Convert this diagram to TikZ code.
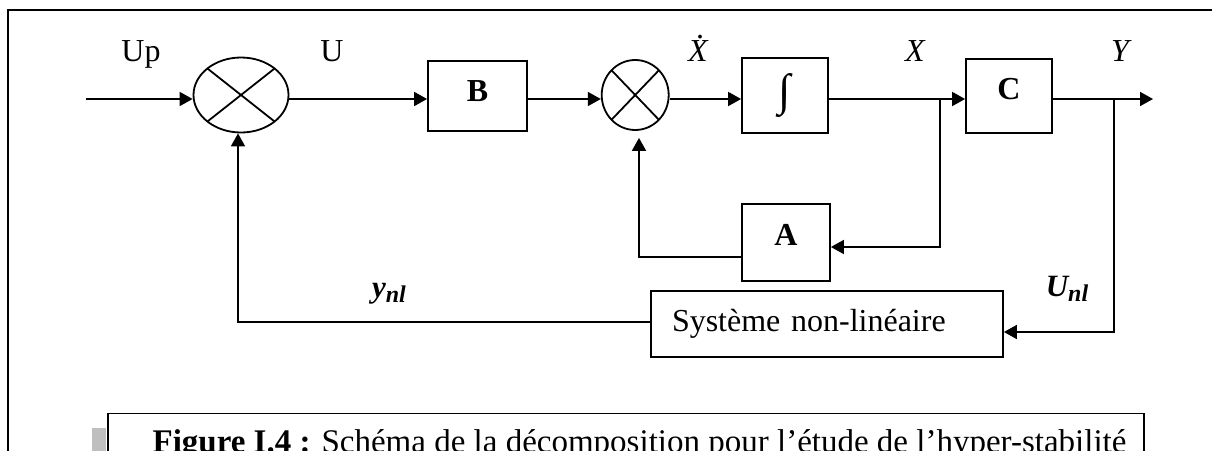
\documentclass[tikz,border=0pt]{standalone}
\usepackage{graphicx}
\usepackage{fontspec}
\setmainfont{Liberation Serif}
\usetikzlibrary{arrows.meta,calc,shapes.geometric}

\begin{document}
\begin{tikzpicture}[x=1pt,y=-1pt,
  line width=1.8pt,
  txt/.style={font=\fontsize{32}{38}\selectfont},
  blk/.style={draw, inner sep=0pt, font=\fontsize{32}{38}\selectfont\bfseries},
  sumj/.style={draw, ellipse, inner sep=0pt,
    path picture={\draw[line width=1.8pt]
      (path picture bounding box.north west) -- (path picture bounding box.south east)
      (path picture bounding box.south west) -- (path picture bounding box.north east);}},
  sig/.style={-{Triangle[length=13pt,width=14pt]}},
  lbl/.style={anchor=base, inner sep=0pt, font=\fontsize{32}{38}\selectfont},
  vlbl/.style={anchor=base, inner sep=0pt, font=\fontsize{32}{38}\selectfont\itshape},
  blbl/.style={anchor=base, inner sep=0pt, font=\fontsize{31}{34}\selectfont\bfseries\itshape},
]
\useasboundingbox (0,0) rectangle (1212,450);
\fill[white] (0,0) rectangle (1212,450);
\clip (0,0) rectangle (1212,450);

% outer frame
\draw (8,10) rectangle (1240,480);

% summing junctions
\node[sumj, minimum width=95pt, minimum height=75pt] (j1) at (241,95) {};
\node[sumj, minimum width=67pt, minimum height=70pt] (j2) at (635.2,95) {};

% blocks
\node[blk, minimum width=99pt, text height=40.7pt, text depth=29.3pt] (B) at (477.5,96) {B};
\node[blk, minimum width=86pt, minimum height=75pt, font=\fontsize{32}{38}\selectfont] (I) at (785,95.5)
  {\resizebox*{!}{44pt}{∫}};
\node[blk, minimum width=86pt, text height=40.3pt, text depth=33.7pt] (C) at (1009,96) {C};
\node[blk, minimum width=88pt, text height=41pt, text depth=36pt] (A) at (786,242.5) {A};
\node[draw, txt, inner xsep=21pt, inner ysep=0pt, text width=310pt, align=left,
      text height=40.7pt, text depth=25.3pt] (S) at (827,324) {Système non-linéaire};

% signal labels
\node[lbl] (lUp) at (141,61.7) {Up};
\node[lbl] (lU) at (332,61.7) {U};
\node[vlbl] (lXd) at (698,61) {\rlap{\hspace{8pt}\raisebox{23pt}{\upshape .}}X};
\node[vlbl] (lX) at (915,61) {X};
\node[vlbl] (lY) at (1120,61) {Y};
\node[blbl] (lynl) at (389,297) {y\raisebox{-5pt}{\fontsize{24}{26}\selectfont nl}};
\node[blbl] (lunl) at (1067,296) {U\raisebox{-5pt}{\fontsize{24}{26}\selectfont nl}};

% routing points
\coordinate (in) at (86,99);
\coordinate (r) at (0,99);
\coordinate (bx) at (940,99);
\coordinate (ax) at (940,247);
\coordinate (by) at (1114,99);
\coordinate (sy) at (1114,332);
\coordinate (out) at (1153,99);
\coordinate (fa) at (639,257);
\coordinate (fb) at (238,322);

% forward path
\draw[sig] (in) -- (in -| j1.west);
\draw[sig] (j1.east |- r) -- (B.west |- r);
\draw[sig] (B.east |- r) -- (j2.west |- r);
\draw[sig] (j2.east |- r) -- (I.west |- r);
\draw[sig] (I.east |- r) -- (C.west |- r);
\draw[sig] (C.east |- r) -- (out);

% inner loop through A
\draw[sig] (bx) -- (ax) -- (ax -| A.east);
\draw[sig, shorten >=7pt] (A.west |- fa) -- (fa) -- (fa |- j2.south);

% outer loop through the nonlinear system
\draw[sig] (by) -- (sy) -- (sy -| S.east);
\draw[sig] (S.west |- fb) -- (fb) -- (fb |- j1.south);

% caption
\fill[gray!50] (92,428) rectangle (106,470);
\node[draw, anchor=north west, inner sep=0pt, text height=39.5pt, text depth=30pt,
      font=\fontsize{33}{38}\selectfont] (cap) at (106.7,412.5)
  {\makebox[1036pt][l]{\hspace*{45pt}\textbf{Figure I.4 :} Schéma de la décomposition pour l’étude de l’hyper-stabilité}};
\end{tikzpicture}
\end{document}
